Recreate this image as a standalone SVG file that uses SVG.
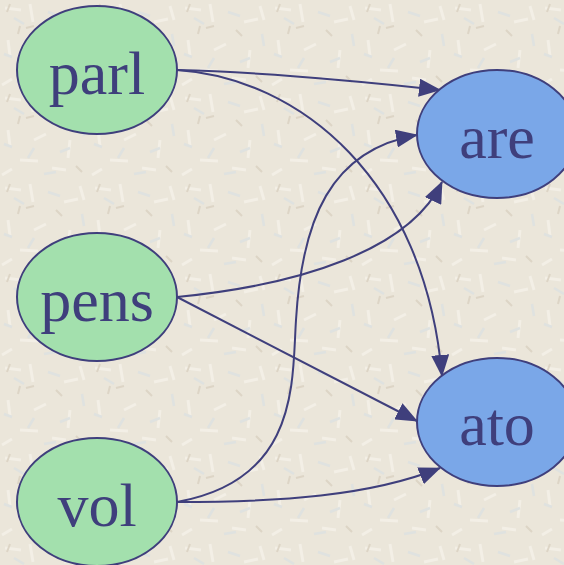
<svg xmlns="http://www.w3.org/2000/svg" width="564" height="565" viewBox="0 0 564 565">
  <style>
    .node ellipse { stroke: #3f3f7c; stroke-width: 2; }
    .src ellipse { fill: #a3e0ad; }
    .dst ellipse { fill: #7aa7e8; }
    .node text { font-family: "Liberation Serif", "Times New Roman", serif; font-size: 62px; fill: #3f3f7c; text-anchor: middle; }
    .edge { fill: none; stroke: #3f3f7c; stroke-width: 2; marker-end: url(#arrow); }
  </style>
  <defs>
    <marker id="arrow" markerUnits="userSpaceOnUse" markerWidth="22" markerHeight="18" refX="21" refY="9" orient="auto">
      <path d="M0,0 L22,9 L0,18 Z" fill="#3f3f7c"/>
    </marker>
    <pattern id="tex" width="90" height="90" patternUnits="userSpaceOnUse">
      <rect width="90" height="90" fill="#ebe6da"/>
      <path d="M5,8 l16,2 M30,4 l3,18 M64,22 l14,-3 M8,40 l2,16 M20,70 l18,1 M70,50 l-2,18 M46,44 l-12,6 M2,85 l10,-6 M52,78 l14,2 M80,6 l4,14" stroke="#f3efe6" stroke-width="3"/>
      <path d="M14,18 l10,6 M48,12 l12,4 M82,34 l2,12 M34,58 l-6,10 M44,84 l12,-2 M4,54 l8,3 M60,62 l10,-4" stroke="#dfe2e0" stroke-width="2.5"/>
      <path d="M26,28 l8,-2 M10,4 l-3,8 M76,76 l6,6 M18,34 l2,-8 M56,30 l6,6" stroke="#ddd5c6" stroke-width="2"/>
    </pattern>
  </defs>
  <rect width="564" height="565" fill="url(#tex)"/>

  <g id="connectors">
    <path class="edge" d="M177,70 C260,72 350,80 440,90"/>
    <path class="edge" d="M177,70 C300,78 425,180 442,376"/>
    <path class="edge" d="M177,297 C300,285 410,250 442,182"/>
    <path class="edge" d="M177,297 L417,421"/>
    <path class="edge" d="M177,502 C300,480 292,380 296,320 C302,220 330,150 417,135"/>
    <path class="edge" d="M177,502 C280,502 370,496 440,468"/>
  </g>

  <g id="parl" class="node src">
    <ellipse cx="97" cy="70" rx="80" ry="64"/>
    <text x="97" y="94">parl</text>
  </g>
  <g id="pens" class="node src">
    <ellipse cx="97" cy="297" rx="80" ry="64"/>
    <text x="97" y="321">pens</text>
  </g>
  <g id="vol" class="node src">
    <ellipse cx="97" cy="502" rx="80" ry="64"/>
    <text x="97" y="526">vol</text>
  </g>
  <g id="are" class="node dst">
    <ellipse cx="497" cy="134" rx="80" ry="64"/>
    <text x="497" y="158">are</text>
  </g>
  <g id="ato" class="node dst">
    <ellipse cx="497" cy="422" rx="80" ry="64"/>
    <text x="497" y="445">ato</text>
  </g>
</svg>
